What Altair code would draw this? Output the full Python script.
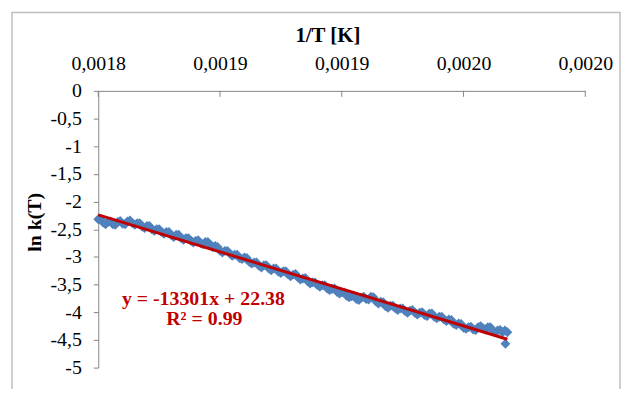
import altair as alt
import pandas as pd

# 1/T values (K^-1) and ln k(T) values
X_VALS = [0.001840, 0.001842, 0.001844, 0.001846, 0.001848, 0.001850, 0.001852, 0.001854, 0.001856, 0.001858,
          0.001860, 0.001862, 0.001864, 0.001866, 0.001868, 0.001870, 0.001872, 0.001874, 0.001876, 0.001878,
          0.001880, 0.001882, 0.001884, 0.001886, 0.001888, 0.001890, 0.001892, 0.001894, 0.001896, 0.001898,
          0.001900, 0.001902, 0.001904, 0.001906, 0.001908, 0.001910, 0.001912, 0.001914, 0.001916, 0.001918,
          0.001920, 0.001922, 0.001924, 0.001926, 0.001928, 0.001930, 0.001932, 0.001934, 0.001936, 0.001938,
          0.001940, 0.001942, 0.001944, 0.001946, 0.001948, 0.001950, 0.001952, 0.001954, 0.001956, 0.001958,
          0.001960, 0.001962, 0.001964, 0.001966, 0.001968, 0.001970, 0.001972, 0.001974, 0.001976, 0.001978,
          0.001980, 0.001982, 0.001984, 0.001986, 0.001988, 0.001990, 0.001992, 0.001994, 0.001996, 0.001998,
          0.002000, 0.002002, 0.002004, 0.002006, 0.0020072, 0.002008,
          0.001841, 0.001843, 0.001845, 0.001847, 0.001849, 0.001851, 0.001853, 0.001855, 0.001857, 0.001859,
          0.001861, 0.001863, 0.001865, 0.001867, 0.001869, 0.001871, 0.001873, 0.001875, 0.001877, 0.001879,
          0.001881, 0.001883, 0.001885, 0.001887, 0.001889, 0.001891, 0.001893, 0.001895, 0.001897, 0.001899,
          0.001901, 0.001903, 0.001905, 0.001907, 0.001909, 0.001911, 0.001913, 0.001915, 0.001917, 0.001919,
          0.001921, 0.001923, 0.001925, 0.001927, 0.001929, 0.001931, 0.001933, 0.001935, 0.001937, 0.001939,
          0.001941, 0.001943, 0.001945, 0.001947, 0.001949, 0.001951, 0.001953, 0.001955, 0.001957, 0.001959,
          0.001961, 0.001963, 0.001965, 0.001967, 0.001969, 0.001971, 0.001973, 0.001975, 0.001977, 0.001979,
          0.001981, 0.001983, 0.001985, 0.001987, 0.001989, 0.001991, 0.001993, 0.001995, 0.001997, 0.001999,
          0.002001, 0.002003, 0.002005, 0.002007]
LNK_VALS = [-2.32, -2.38, -2.37, -2.41, -2.37, -2.40, -2.36, -2.39, -2.39, -2.45,
            -2.44, -2.50, -2.50, -2.55, -2.55, -2.61, -2.60, -2.66, -2.66, -2.71,
            -2.71, -2.75, -2.73, -2.78, -2.80, -2.89, -2.89, -2.94, -2.96, -3.02,
            -3.01, -3.09, -3.10, -3.16, -3.15, -3.21, -3.21, -3.27, -3.26, -3.32,
            -3.32, -3.37, -3.39, -3.44, -3.46, -3.51, -3.51, -3.57, -3.58, -3.63,
            -3.64, -3.70, -3.71, -3.76, -3.74, -3.76, -3.72, -3.80, -3.81, -3.89,
            -3.88, -3.93, -3.93, -3.98, -3.97, -4.01, -4.01, -4.05, -4.02, -4.08,
            -4.08, -4.13, -4.13, -4.21, -4.20, -4.28, -4.27, -4.31, -4.27, -4.29,
            -4.27, -4.33, -4.33, -4.36, -4.57, -4.36,
            -2.32, -2.41, -2.36, -2.42, -2.35, -2.41, -2.34, -2.42, -2.39, -2.48,
            -2.44, -2.53, -2.50, -2.58, -2.55, -2.64, -2.60, -2.69, -2.66, -2.74,
            -2.70, -2.77, -2.73, -2.82, -2.82, -2.92, -2.89, -2.98, -2.96, -3.04,
            -3.02, -3.12, -3.10, -3.19, -3.15, -3.24, -3.21, -3.29, -3.26, -3.35,
            -3.31, -3.41, -3.38, -3.48, -3.46, -3.54, -3.51, -3.60, -3.57, -3.66,
            -3.64, -3.73, -3.70, -3.78, -3.72, -3.77, -3.73, -3.84, -3.82, -3.92,
            -3.88, -3.96, -3.93, -4.01, -3.96, -4.04, -4.00, -4.07, -4.02, -4.11,
            -4.08, -4.16, -4.14, -4.23, -4.21, -4.30, -4.26, -4.32, -4.25, -4.31,
            -4.27, -4.36, -4.32, -4.33]

X_TICKS = [0.00184, 0.00189, 0.00194, 0.00199, 0.00204]
Y_TICKS = [0, -0.5, -1, -1.5, -2, -2.5, -3, -3.5, -4, -4.5, -5]
X_TITLE = "1/T [K]"
Y_TITLE = "ln k(T)"
EQ_TEXT = "y = -13301x + 22.38"
R2_TEXT = "R² = 0.99"

df = pd.DataFrame({"x": X_VALS, "y": LNK_VALS})
tick_df = pd.DataFrame({"x": X_TICKS})

FONT = "Liberation Serif"
AXIS_GRAY = "#868686"

xscale = alt.Scale(domain=[0.00184, 0.00204], nice=False, zero=False)
yscale = alt.Scale(domain=[-5, 0], nice=False, zero=False)

xaxis = alt.Axis(
    orient="top", values=X_TICKS,
    labelExpr="replace(format(datum.value, '.4f'), '.', ',')",
    ticks=False, tickSize=0, labelPadding=22, labelBaseline="alphabetic",
    labelFont=FONT, labelFontSize=20, labelColor="black",
    labelFlush=False, labelOverlap=False,
    domainColor=AXIS_GRAY, domainWidth=1, grid=False,
    title=X_TITLE, titleFont=FONT, titleFontSize=21, titleFontWeight="bold",
    titleColor="black", titleX=231, titleY=-50, titleBaseline="alphabetic",
    titleAlign="center",
)
yaxis = alt.Axis(
    orient="left", values=Y_TICKS,
    labelExpr="replace(toString(datum.value), '.', ',')",
    tickSize=5, tickColor=AXIS_GRAY, domainColor=AXIS_GRAY, domainWidth=1,
    labelPadding=12, labelFont=FONT, labelFontSize=20, labelColor="black",
    labelFlush=False, labelOverlap=False, grid=False,
    title=Y_TITLE, titleFont=FONT, titleFontSize=20, titleFontWeight="bold",
    titleColor="black", titleX=-64, titleY=132, titleAngle=270,
    titleBaseline="middle", titleAlign="center",
)

xenc = alt.X("x:Q", scale=xscale, axis=xaxis)
yenc = alt.Y("y:Q", scale=yscale, axis=yaxis)

one = alt.Data(values=[{}])

border = alt.Chart(one).mark_rect(fillOpacity=0, stroke="#BFBFBF", strokeWidth=1.5).encode(
    x=alt.value(-87), x2=alt.value(526), y=alt.value(-79), y2=alt.value(330)
)

points = alt.Chart(df).mark_point(
    shape="diamond", filled=True, size=100, color="#4F81BD", opacity=1
).encode(x=xenc, y=yenc)

trend = alt.Chart(df).transform_regression("x", "y").mark_line(
    color="#C00000", strokeWidth=3
).encode(x=xenc, y=yenc)

xticks = alt.Chart(tick_df).mark_rule(color=AXIS_GRAY, strokeWidth=1).encode(
    x=xenc, y=alt.value(0), y2=alt.value(6)
)

eq = alt.Chart(one).mark_text(
    font=FONT, fontSize=20, fontWeight="bold", color="#C00000",
    align="center", baseline="alphabetic"
).encode(x=alt.value(106), y=alt.value(216), text=alt.value(EQ_TEXT))

r2 = alt.Chart(one).mark_text(
    font=FONT, fontSize=20, fontWeight="bold", color="#C00000",
    align="center", baseline="alphabetic"
).encode(x=alt.value(107), y=alt.value(236), text=alt.value(R2_TEXT))

chart = alt.layer(border, points, trend, xticks, eq, r2).properties(
    width=491, height=279,
    autosize=alt.AutoSizeParams(type="none"),
    padding={"left": 91, "top": 82, "right": 36, "bottom": 20},
).configure_view(strokeWidth=0)

chart.save("out.html", embed_options={"renderer": "svg", "actions": False})
